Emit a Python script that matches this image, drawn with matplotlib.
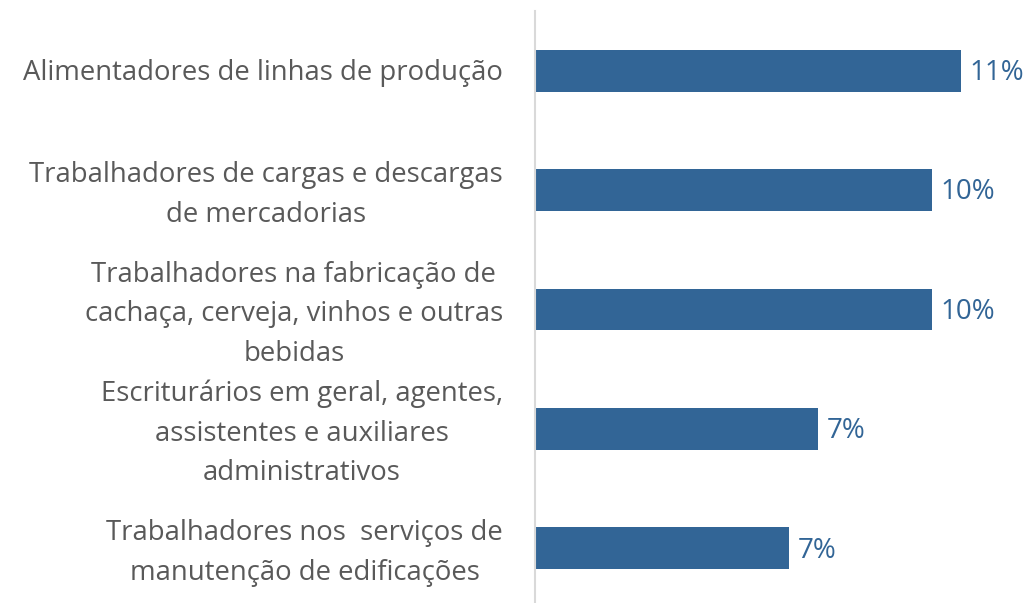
import matplotlib.pyplot as plt
from matplotlib.transforms import ScaledTranslation

categories = [
    "Alimentadores de linhas de produção",
    "Trabalhadores de cargas e descargas\nde mercadorias",
    "Trabalhadores na fabricação de\ncachaça, cerveja, vinhos e outras\nbebidas",
    "Escriturários em geral, agentes,\nassistentes e auxiliares\nadministrativos",
    "Trabalhadores nos  serviços de\nmanutenção de edificações",
]
values = [10.9, 10.15, 10.15, 7.25, 6.5]
value_labels = ["11%", "10%", "10%", "7%", "7%"]

bar_color = "#326596"
text_color = "#595959"

plt.rcParams['font.family'] = ['Open Sans', 'DejaVu Sans']

fig = plt.figure(figsize=(10.3, 6.03), dpi=100)
ax = fig.add_axes([535 / 1030, -5 / 603, 475 / 1030, 597 / 603])

y = list(range(len(categories)))
ax.barh(y, values, height=0.35, color=bar_color)
ax.set_ylim(len(categories) - 0.5, -0.5)
ax.set_xlim(0, 12.15)

for yi, v, lab in zip(y, values, value_labels):
    ax.text(v + 0.22, yi + 0.02, lab, va='center', ha='left', fontsize=20, color=bar_color)

ax.set_yticks(y)
ax.set_yticklabels(categories, fontsize=19.8, color=text_color, ha='right',
                   multialignment='center', linespacing=1.55)
ax.tick_params(axis='y', length=0, pad=23)
ax.set_xticks([])

# nudge multi-line labels up a little to centre them on the bars
for lab in ax.get_yticklabels():
    dy = 4.5 if "\n" in lab.get_text() else 1
    lab.set_transform(lab.get_transform() + ScaledTranslation(0, dy / 100, fig.dpi_scale_trans))

for s in ['top', 'right', 'bottom']:
    ax.spines[s].set_visible(False)
ax.spines['left'].set_color('#d9d9d9')
ax.spines['left'].set_linewidth(1.5)

fig.savefig('out.png', dpi=100)
